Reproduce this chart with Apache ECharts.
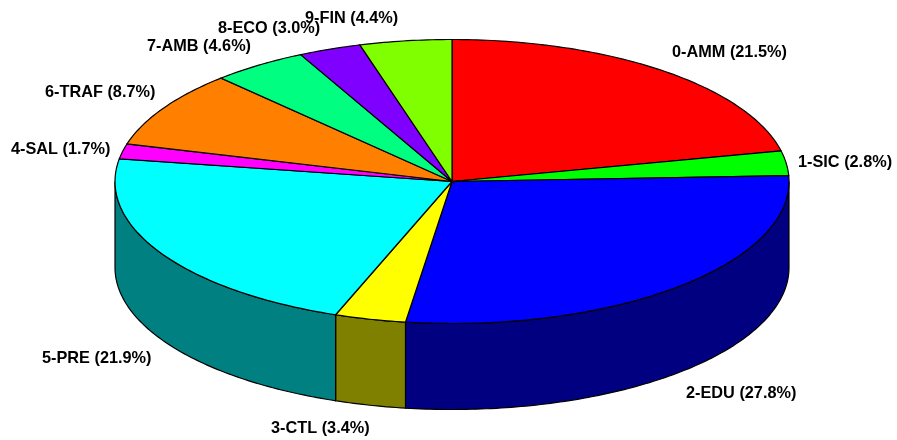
<!DOCTYPE html>
<html><head><meta charset="utf-8">
<style>html,body{margin:0;padding:0;background:#fff}#c{width:897px;height:440px}</style>
<script src="https://cdn.jsdelivr.net/npm/echarts@6/dist/echarts.min.js"></script>
</head><body><div id="c"></div>
<script>
const categories=['0-AMM','1-SIC','2-EDU','3-CTL','5-PRE','4-SAL','6-TRAF','7-AMB','8-ECO','9-FIN'];
const values=[21.5,2.8,27.8,3.4,21.9,1.7,8.7,4.6,3.0,4.4];
const topColors=['#ff0000','#00ff00','#0000ff','#ffff00','#00ffff','#ff00ff','#ff8000','#00ff80','#8000ff','#80ff00'];
const sideColors=['#800000','#008000','#000080','#808000','#008080','#800080','#804000','#008040','#400080','#408000'];
const labelAnchors=[[672,52.5],[798,162.5],[686,393.5],[271,428.5],[42,358.5],[11,149.5],[45,92.5],[147,46.5],[218,28.5],[305,18.5]];
const cx=452,cy=181.5,rx=337,ry=142,depth=86;
const total=values.reduce((a,b)=>a+b,0);
const starts=[];values.reduce((s,v,i)=>(starts[i]=s,s+v),0);
const pt=(a,dy)=>[cx+rx*Math.sin(a),cy-ry*Math.cos(a)+(dy||0)];
function arc(a0,a1,dy){const n=Math.max(2,Math.ceil((a1-a0)/0.015));const o=[];for(let k=0;k<=n;k++)o.push(pt(a0+(a1-a0)*k/n,dy));return o;}
const stroke={stroke:'#000',lineWidth:1.2};
const angs=i=>[starts[i]/total*2*Math.PI,(starts[i]+values[i])/total*2*Math.PI];
const chart=echarts.init(document.getElementById('c'),null,{renderer:'canvas'});
const data=values.map((v,i)=>({name:categories[i],value:[i,v]}));
chart.setOption({
 animation:false,backgroundColor:'#fff',
 series:[
 {type:'custom',coordinateSystem:'none',silent:true,data,z:1,renderItem(p,api){
   const i=api.value(0);const [a0,a1]=angs(i);
   const s=Math.max(a0,Math.PI/2),e=Math.min(a1,Math.PI*1.5);
   if(e<=s)return {type:'group',children:[]};
   const pts=arc(s,e,0).concat(arc(s,e,depth).reverse());
   return {type:'polygon',shape:{points:pts},style:Object.assign({fill:sideColors[i]},stroke)};
 }},
 {type:'custom',coordinateSystem:'none',silent:true,data,z:2,renderItem(p,api){
   const i=api.value(0);const [a0,a1]=angs(i);
   const pts=[[cx,cy]].concat(arc(a0,a1,0));
   return {type:'polygon',shape:{points:pts},style:Object.assign({fill:topColors[i]},stroke)};
 }},
 {type:'custom',coordinateSystem:'none',silent:true,data,z:3,renderItem(p,api){
   const i=api.value(0);
   return {type:'text',x:labelAnchors[i][0],y:labelAnchors[i][1],style:{
     text:categories[i]+' ('+api.value(1).toFixed(1)+'%)',
     fill:'#000',font:'bold 16.3px "Liberation Sans", Arial, sans-serif',textAlign:'left',textVerticalAlign:'middle'}};
 }}
 ]
});
</script></body></html>
